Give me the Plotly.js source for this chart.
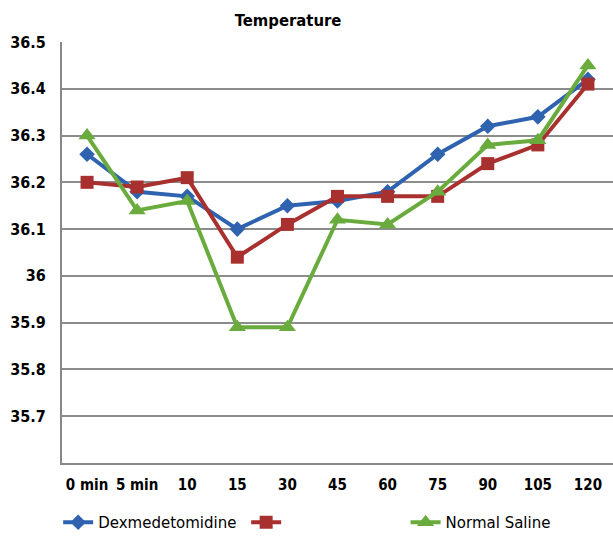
<!DOCTYPE html>
<html><head><meta charset="utf-8">
<script src="https://cdn.plot.ly/plotly-3.0.1.min.js"></script>
<style>html,body{margin:0;padding:0;background:#fff}#chart{width:613px;height:539px}</style>
</head><body><div id="chart"></div>
<script>
const categories = ["0 min","5 min","10","15","30","45","60","75","90","105","120"];
const dexValues = [36.26,36.18,36.17,36.10,36.15,36.16,36.18,36.26,36.32,36.34,36.42];
const redValues = [36.20,36.19,36.21,36.04,36.11,36.17,36.17,36.17,36.24,36.28,36.41];
const salineValues = [36.30,36.14,36.16,35.89,35.89,36.12,36.11,36.18,36.28,36.29,36.45];
const yTicks = [35.7,35.8,35.9,36,36.1,36.2,36.3,36.4,36.5];
const yTickText = ["35.7","35.8","35.9","36","36.1","36.2","36.3","36.4","36.5"];
const seriesNames = ["Dexmedetomidine", "", "Normal Saline"];

const font = "DejaVu Sans Condensed, DejaVu Sans, sans-serif";
const pad = n => "\u00a0".repeat(n);
const traces = [
  {x: categories, y: dexValues, name: seriesNames[0] + pad(1), type: "scatter", mode: "lines+markers",
   line: {color: "#2f63b0", width: 4}, marker: {symbol: "diamond", size: 12, color: "#2f63b0"}},
  {x: categories, y: redValues, name: seriesNames[1] + pad(24), type: "scatter", mode: "lines+markers",
   line: {color: "#a8312f", width: 4}, marker: {symbol: "square", size: 13, color: "#a8312f"}},
  {x: categories, y: salineValues, name: seriesNames[2], type: "scatter", mode: "lines+markers",
   line: {color: "#6aab3e", width: 4}, marker: {symbol: "triangle-up", size: 15, color: "#6aab3e"}}
];
const layout = {
  width: 613, height: 539,
  margin: {l: 62, r: 0, t: 42, b: 75},
  paper_bgcolor: "#fff", plot_bgcolor: "#fff",
  title: {text: "<b>Temperature</b>", x: 0.47, xanchor: "center", y: 0.962, yanchor: "middle",
          font: {family: "DejaVu Sans Condensed, Liberation Sans, Arial, sans-serif", size: 16.5, color: "#000"}},
  xaxis: {type: "category", range: [-0.5, 10.5], showgrid: false, zeroline: false,
          showline: true, linecolor: "#888", linewidth: 2, ticks: "", tickangle: 0,
          tickfont: {family: font, size: 15, color: "#000", weight: "bold"}, ticklabelstandoff: 7},
  yaxis: {range: [35.6, 36.5], tickvals: yTicks, ticktext: yTickText, showgrid: true,
          gridcolor: "#8c8c8c", gridwidth: 2, zeroline: false, showline: true,
          linecolor: "#888", linewidth: 2, ticks: "",
          tickfont: {family: font, size: 16, color: "#000", weight: "bold"}, ticklabelstandoff: 11},
  showlegend: true,
  legend: {orientation: "h", x: -0.007, xanchor: "left", y: -0.14, yanchor: "middle",
           font: {family: "DejaVu Sans, sans-serif", size: 15, color: "#000"},
           itemwidth: 30, traceorder: "normal", tracegroupgap: 0}
};
Plotly.newPlot("chart", traces, layout, {displayModeBar: false, staticPlot: true});
</script></body></html>
